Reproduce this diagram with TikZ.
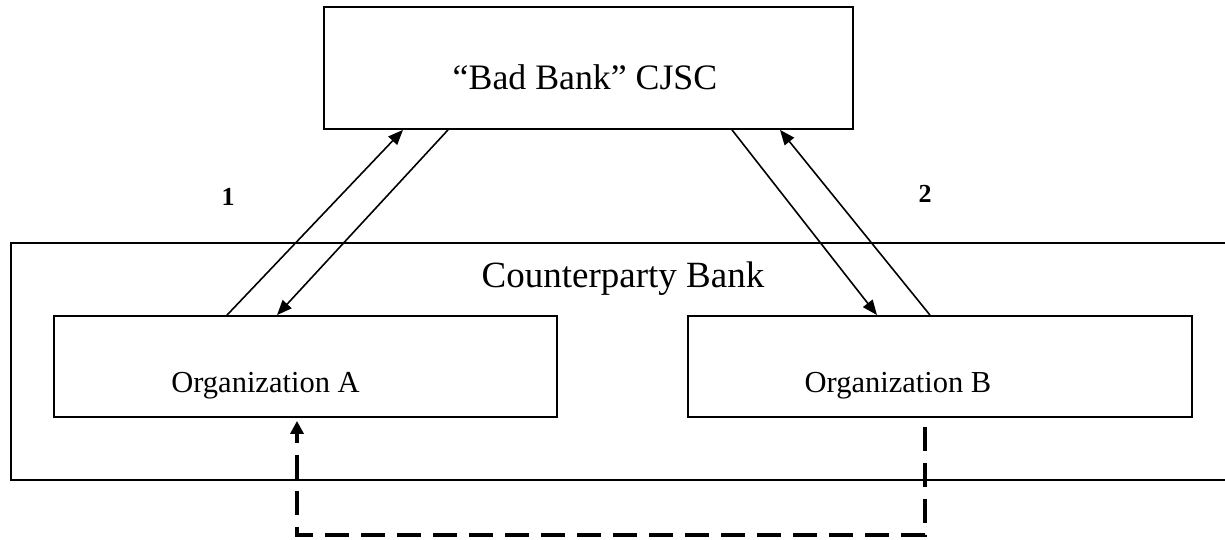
\documentclass[tikz,border=0pt]{standalone}
\usepackage{fontspec}
\setmainfont{Liberation Serif}
\usetikzlibrary{arrows.meta}

\tikzset{
  box/.style={draw, line width=1.8pt, rectangle, inner sep=0pt},
  flow/.style={line width=1.6pt, -{Triangle[length=15pt,width=12pt]}},
  dasharrow/.style={line width=4pt, dash pattern=on 24pt off 12pt,
    -{Triangle[length=13pt,width=13pt]}},
  bigtext/.style={anchor=base, inner sep=0pt, font=\fontsize{36}{40}\selectfont},
  orgtext/.style={anchor=base, inner sep=0pt, font=\fontsize{30.5}{34}\selectfont},
  numtext/.style={anchor=base, inner sep=0pt, font=\fontsize{26}{30}\selectfont\bfseries}
}

\begin{document}
\begin{tikzpicture}[x=1pt, y=-1pt]
  \useasboundingbox (0,0) rectangle (1225,540);

  % boxes
  \node[box, minimum width=1215pt, minimum height=237pt] (cp)   at (618.5,361.5) {};
  \node[box, minimum width=529pt,  minimum height=122pt] (bad)  at (588.5,68) {};
  \node[box, minimum width=503pt,  minimum height=101pt] (orgA) at (305.5,366.5) {};
  \node[box, minimum width=504pt,  minimum height=101pt] (orgB) at (940,366.5) {};

  % labels
  \node[bigtext] (badlbl) at (585,90) {\fontsize{35.8}{40}\selectfont “Bad Bank” CJSC};
  \node[bigtext] (cplbl)  at (623,287) {\fontsize{37}{40}\selectfont Counterparty Bank};
  \node[orgtext] (alabel) at (265.5,392) {Organization A};
  \node[orgtext] (blabel) at (898,392) {Organization B};
  \node[numtext] (n1) at (228,205) {1};
  \node[numtext] (n2) at (925,203) {2};

  % flows between the bad bank and organization A
  \draw[flow] ([xshift=-78.5pt]orgA.north) -- ([xshift=-185.5pt]bad.south);
  \draw[flow] ([xshift=-140.5pt]bad.south) -- ([xshift=-28.5pt]orgA.north);

  % flows between the bad bank and organization B
  \draw[flow] ([xshift=143.5pt]bad.south) -- ([xshift=-63pt]orgB.north);
  \draw[flow] ([xshift=-10pt]orgB.north) -- ([xshift=191.5pt]bad.south);

  % transfer from organization B to organization A
  \coordinate (dstart) at ([xshift=-15pt,yshift=-9pt]orgB.south);
  \coordinate (dturn)  at (925,535);
  \coordinate (dend)   at ([xshift=-8.5pt,yshift=-3pt]orgA.south);
  \draw[dasharrow] (dstart) -- (dturn) -| (dend);
\end{tikzpicture}
\end{document}
